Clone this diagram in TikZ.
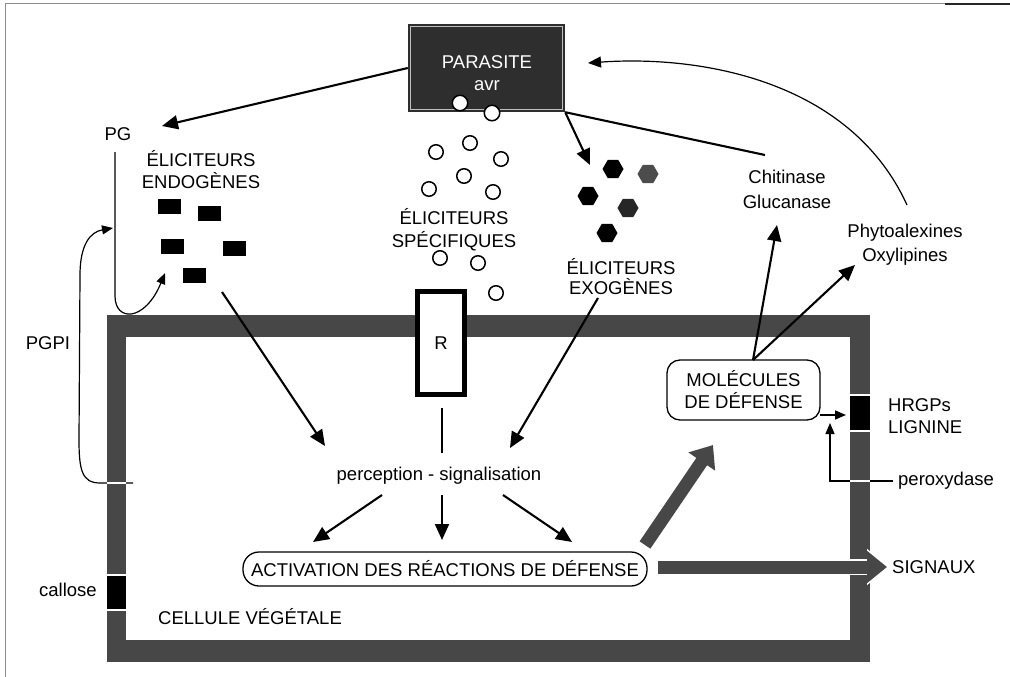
\documentclass[tikz,border=0pt]{standalone}
\usepackage{fontspec}
\setmainfont{Liberation Sans}
\usetikzlibrary{arrows.meta,shapes.geometric}
\begin{document}
\begin{tikzpicture}[x=1pt,y=-1pt,
  txt/.style={font=\fontsize{18.5}{22}\selectfont, inner sep=0pt, align=center},
  arr/.style={line width=2.1pt, -{Triangle[length=16pt,width=14pt]}},
  thinarr/.style={line width=1.2pt, -{Triangle[length=11pt,width=9pt]}},
  thinln/.style={line width=1.2pt},
  spec/.style={circle, draw, fill=white, line width=1.5pt, minimum size=14.5pt, inner sep=0pt},
  exo/.style={regular polygon, regular polygon sides=6, fill=black, minimum size=21pt, inner sep=0pt},
  endo/.style={fill=black, minimum width=23pt, minimum height=15pt, inner sep=0pt},
  bigarr/.style={line width=13pt, draw=black!72, -{Triangle[length=20pt,width=31pt]}},
  wallgap/.style={white, line width=1.3pt},
  rbox/.style={draw, line width=1.3pt, txt}
]
\useasboundingbox (0,0) rectangle (1010,677);
\fill[white] (0,0) rectangle (1010,677);
% frame
\draw[black!45, line width=1pt] (5,677) -- (5,4) -- (1010,4);
\draw[black!85, line width=1.2pt] (945,4) -- (1010,4);

% cell wall
\fill[black!72] (107,315) rectangle (870,662);
\fill[white] (126,337) rectangle (850,640);
\fill[black] (107,575) rectangle (126,610);
\draw[wallgap] (107,575) -- (126,575) (107,610) -- (126,610);
\fill[black] (850,395) rectangle (870,431);
\draw[wallgap] (850,395) -- (870,395) (850,431) -- (870,431);

% parasite
\node[fill=black!82, minimum width=157pt, minimum height=88pt, inner sep=0pt] (par) at (486.5,68) {};
\draw[white!75!black, line width=0.8pt] (410.5,26.5) rectangle (562.5,109.5);
\node[txt, text=white] (parT) at (487,62) {PARASITE};
\node[txt, text=white] (avr) at (487,86) {avr};
\node[spec, minimum size=15.5pt] (a1) at (460,103) {};
\node[spec, minimum size=15.5pt] (a2) at (492,113) {};

% labels
\node[txt] (PG) at (118,134) {PG};
\node[txt] (endoT) at (201,170) {ÉLICITEURS\\ENDOGÈNES};
\node[txt, font=\fontsize{18.5}{23}\selectfont] (specT) at (454,230) {ÉLICITEURS\\SPÉCIFIQUES};
\node[txt, font=\fontsize{18.5}{20}\selectfont] (exoT) at (621,277) {ÉLICITEURS\\EXOGÈNES};
\node[txt, font=\fontsize{18.5}{25}\selectfont] (chit) at (787,189.5) {Chitinase\\Glucanase};
\node[txt, font=\fontsize{18.5}{24}\selectfont] (phyto) at (905,245) {Phytoalexines\\Oxylipines};
\node[txt] (PGPI) at (48,343) {PGPI};
\node[txt] (callose) at (68,590) {callose};
\node[txt] (cell) at (250,617) {CELLULE VÉGÉTALE};
\node[txt, align=left, anchor=west] (hrgp) at (888,416) {HRGPs\\LIGNINE};
\node[txt, anchor=west] (perox) at (898,481) {peroxydase};
\node[txt, anchor=west] (sign) at (892,567) {SIGNAUX};
\node[txt] (perc) at (439,476) {perception - signalisation};

% endogenous elicitors
\foreach \x/\y [count=\i] in {169/206.5, 209.5/213, 172.5/246.5, 234.5/248.5, 194.5/275}
  \node[endo] (n\i) at (\x,\y) {};
% specific elicitors
\foreach \x/\y [count=\i] in {436/152, 470/143, 501/159, 464/176, 429/189, 493/192, 440/258, 478/263, 496/293}
  \node[spec] (s\i) at (\x,\y) {};
% exogenous elicitors
\foreach \x/\y/\c [count=\i] in {613/169/black, 648/174/black!70, 588/196/black, 628/208/black!85, 607/233/black}
  \node[exo, fill=\c] (e\i) at (\x,\y) {};

% receptor
\node[txt, draw, line width=5pt, fill=white, minimum width=47pt, minimum height=103pt] (R) at (441,343) {R};
\coordinate (r1) at (442,408);
\coordinate (r2) at (442,453);
\draw[line width=2.6pt] (r1) -- (r2);

% boxes
\node[rbox, rounded corners=16pt, minimum width=404pt, minimum height=34pt] (act) at (445,569) {ACTIVATION DES RÉACTIONS DE DÉFENSE};
\node[rbox, rounded corners=13pt, minimum width=153pt, minimum height=60pt] (mol) at (743.5,390) {MOLÉCULES\\DE DÉFENSE};

% coordinates
\coordinate (pgtip) at (162,126);
\coordinate (exotip) at (590,165);
\coordinate (chl) at (765,155);
\coordinate (phtop) at (907,205);
\coordinate (partip) at (588,63);
\coordinate (mtop) at (753,360);
\coordinate (chtip) at (777,225);
\coordinate (phtip) at (855,265);
\coordinate (molr) at (820,415);
\coordinate (walltip) at (846,415);
\coordinate (px1) at (893,481);
\coordinate (pxtip) at (830,423);
\coordinate (en1) at (222,292);
\coordinate (en2) at (325,446);
\coordinate (ex1) at (598,298);
\coordinate (ex2) at (510,448);
\coordinate (d1a) at (382,495);
\coordinate (d1b) at (313,542);
\coordinate (d2a) at (442,495);
\coordinate (d2b) at (442,540);
\coordinate (d3a) at (503,495);
\coordinate (d3b) at (572,542);
\coordinate (b1a) at (645,545);
\coordinate (b1b) at (713,445);
\coordinate (b2a) at (658,567);
\coordinate (b2b) at (887,567);

% connectors
\draw[arr] (par.west) -- (pgtip);
\draw[arr] (par.south east) -- (exotip);
\draw[line width=2.1pt] (par.south east) -- (chl);
\draw[thinarr, -{Triangle[length=13pt,width=11pt]}] (phtop) .. controls (850,80) and (700,55) .. (partip);
\draw[arr] (mtop) -- (chtip);
\draw[arr] (mtop) -- (phtip);
\draw[thinarr, line width=1.6pt] (molr) -- (walltip);
\draw[thinarr] (px1) -| (pxtip);
\draw[wallgap] (850,481) -- (870,481);

% PG and PGPI
\draw[thinarr] (115,152) -- (115,296) .. controls (115,322) and (145,322) .. (165,273);
\draw[thinarr] (133,483) -- (100,483) .. controls (82,483) and (79,470) .. (79,440) -- (80,275) .. controls (80,245) and (90,232) .. (113,228);
\draw[wallgap] (107,483) -- (126,483);

\draw[arr] (en1) -- (en2);
\draw[arr] (ex1) -- (ex2);
\draw[arr] (d1a) -- (d1b);
\draw[arr] (d2a) -- (d2b);
\draw[arr] (d3a) -- (d3b);

% big arrows
\draw[bigarr] (b1a) -- (b1b);
\draw[line width=15.5pt, white, -{Triangle[length=22pt,width=35pt]}] (b2a) -- ([xshift=2pt]b2b);
\draw[bigarr] (b2a) -- (b2b);
\end{tikzpicture}
\end{document}
